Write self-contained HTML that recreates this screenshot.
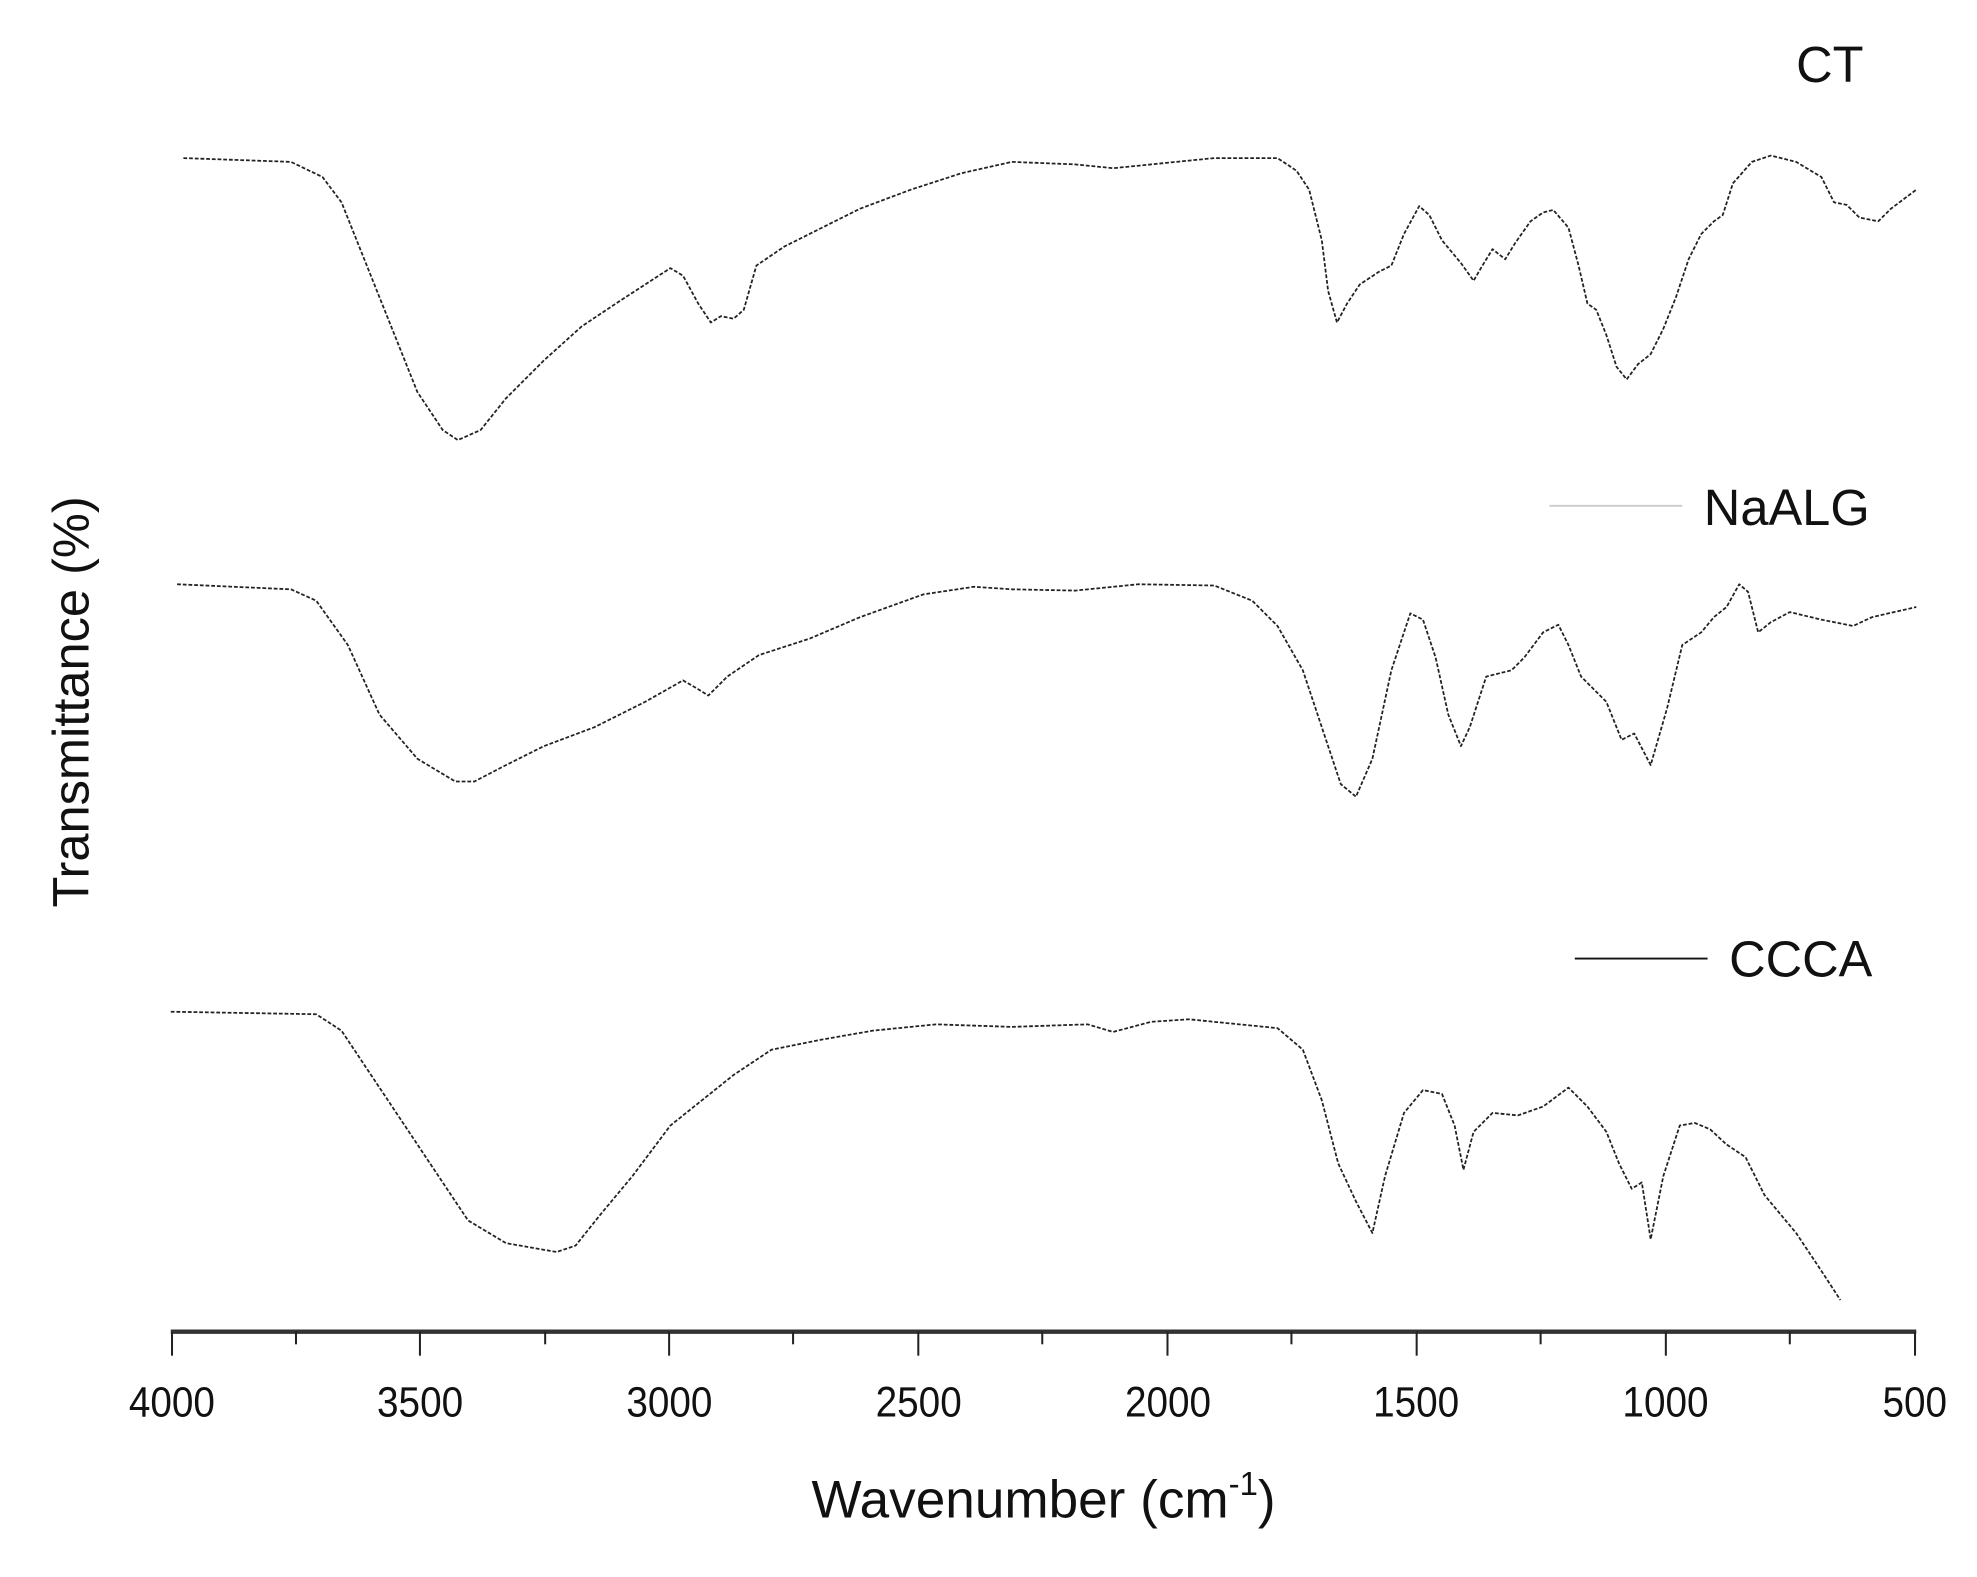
<!DOCTYPE html>
<html><head><style>html,body{margin:0;padding:0;background:#fff;}svg{display:block}</style></head>
<body>
<svg width="1977" height="1577" viewBox="0 0 1563 1247" preserveAspectRatio="none" xmlns="http://www.w3.org/2000/svg" font-family="Liberation Sans, Arial, sans-serif">
<g fill="none" stroke="#222" stroke-width="1.4" stroke-dasharray="3 1.5" stroke-linejoin="round">
<polyline points="145,125 230,128 255,140 270,160 290,210 310,260 330,310 350,340 362,348 380,340 400,315 430,285 460,258 490,238 510,225 530,212 540,218 552,240 562,255 570,250 580,252 588,245 598,210 620,195 650,180 680,165 720,150 760,137 800,128 850,130 880,133 930,128 960,125 1010,125 1025,135 1035,150 1045,190 1050,230 1057,255 1065,240 1075,225 1090,215 1100,210 1110,185 1122,163 1130,170 1140,190 1155,208 1165,222 1172,210 1180,197 1190,205 1198,192 1210,175 1220,168 1228,166 1240,180 1248,210 1255,240 1262,245 1270,265 1278,290 1286,300 1295,288 1305,280 1315,260 1325,235 1335,205 1345,185 1355,175 1362,170 1370,145 1385,128 1400,123 1420,128 1440,140 1450,160 1460,162 1470,172 1485,175 1495,165 1515,150"/>
<polyline points="140,462 230,466 250,475 275,510 300,565 330,600 360,618 375,618 400,605 430,590 470,575 510,555 540,538 552,545 560,550 575,535 600,518 640,505 680,488 730,470 770,464 800,466 850,467 900,462 960,463 990,475 1010,495 1030,530 1045,575 1060,620 1072,630 1085,600 1100,530 1115,485 1125,490 1135,520 1145,565 1155,590 1162,575 1175,535 1195,530 1205,520 1220,500 1232,494 1240,510 1250,535 1270,555 1282,585 1292,580 1305,605 1318,560 1330,510 1345,500 1355,488 1365,480 1375,462 1382,468 1390,500 1400,492 1415,484 1440,490 1465,495 1480,488 1515,480"/>
<polyline points="135,800 250,802 270,815 300,860 340,920 370,965 400,983 440,990 455,985 475,960 500,930 530,890 555,870 580,850 610,830 650,822 690,815 740,810 800,812 860,810 880,816 910,808 940,806 980,810 1010,813 1030,830 1045,870 1058,920 1072,950 1085,975 1095,930 1110,880 1125,862 1140,865 1150,890 1157,925 1165,895 1180,880 1200,882 1220,875 1240,860 1255,875 1270,895 1280,920 1290,940 1298,935 1305,980 1315,930 1328,890 1340,888 1352,893 1365,905 1380,915 1395,945 1420,975 1440,1005 1455,1028"/>
</g>
<line x1="135" y1="1053" x2="1515" y2="1053" stroke="#333" stroke-width="3.5"/>
<g stroke="#222" stroke-width="1.6">
<line x1="136" y1="1053" x2="136" y2="1072"/><line x1="332" y1="1053" x2="332" y2="1072"/><line x1="529" y1="1053" x2="529" y2="1072"/><line x1="726" y1="1053" x2="726" y2="1072"/><line x1="923" y1="1053" x2="923" y2="1072"/><line x1="1120" y1="1053" x2="1120" y2="1072"/><line x1="1317" y1="1053" x2="1317" y2="1072"/><line x1="1514" y1="1053" x2="1514" y2="1072"/>
<line x1="234" y1="1053" x2="234" y2="1063"/><line x1="431" y1="1053" x2="431" y2="1063"/><line x1="627" y1="1053" x2="627" y2="1063"/><line x1="824" y1="1053" x2="824" y2="1063"/><line x1="1021" y1="1053" x2="1021" y2="1063"/><line x1="1218" y1="1053" x2="1218" y2="1063"/><line x1="1415" y1="1053" x2="1415" y2="1063"/>
</g>
<g font-size="34" text-anchor="middle" fill="#111">
<g transform="scale(0.9,1)">
<text x="151" y="1120">4000</text><text x="369" y="1120">3500</text><text x="588" y="1120">3000</text><text x="807" y="1120">2500</text><text x="1026" y="1120">2000</text><text x="1244" y="1120">1500</text><text x="1463" y="1120">1000</text><text x="1682" y="1120">500</text>
</g>
<text x="825" y="1200" font-size="42">Wavenumber (cm<tspan font-size="26" dy="-18">-1</tspan><tspan dy="18">)</tspan></text>
<text transform="translate(70,555) rotate(-90)" font-size="40">Transmittance (%)</text>
</g>
<g font-size="40" fill="#111">
<text x="1420" y="65">CT</text>
<text x="1347" y="415">NaALG</text>
<text x="1367" y="772">CCCA</text>
</g>
<line x1="1225" y1="400" x2="1330" y2="400" stroke="#ccc" stroke-width="1.5"/>
<line x1="1245" y1="758" x2="1350" y2="758" stroke="#111" stroke-width="1.5"/>
</svg>
</body></html>
